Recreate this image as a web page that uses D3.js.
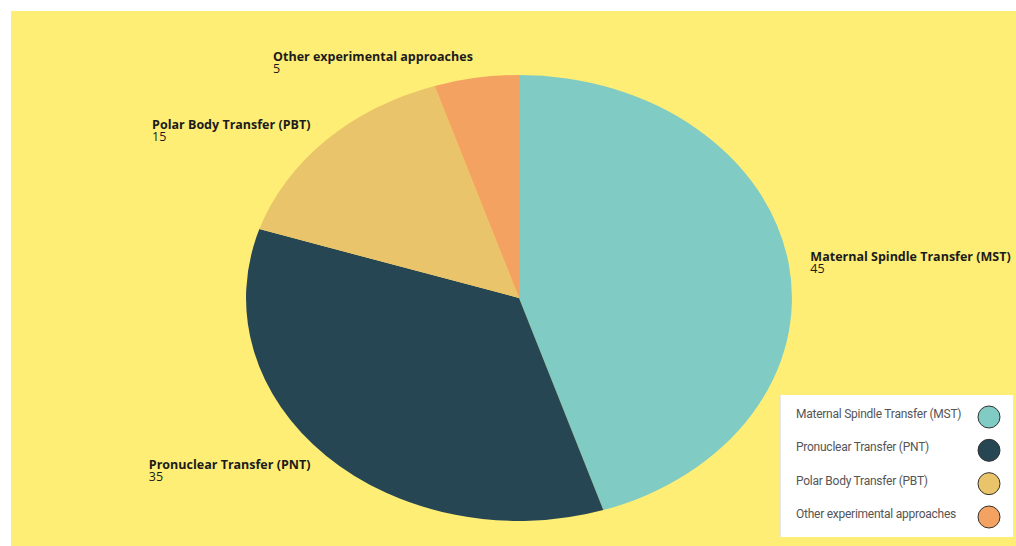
<!DOCTYPE html>
<html>
<head>
<meta charset="utf-8">
<script src="https://cdn.jsdelivr.net/npm/d3@7"></script>
<style>
  html, body { margin: 0; padding: 0; background: #ffffff; }
  svg { display: block; }
</style>
</head>
<body>
<div id="chart"></div>
<script>
// data
var categories = ["Maternal Spindle Transfer (MST)", "Pronuclear Transfer (PNT)", "Polar Body Transfer (PBT)", "Other experimental approaches"];
var values = [45, 35, 15, 5];
var colors = ["#80cbc4", "#264653", "#e9c46a", "#f4a261"];

var WIDTH = 1016, HEIGHT = 546;
var cx = 519, cy = 298, rx = 273, ry = 223;

var svg = d3.select("#chart").append("svg")
    .attr("width", WIDTH)
    .attr("height", HEIGHT);

// yellow panel
svg.append("rect")
    .attr("x", 11).attr("y", 11)
    .attr("width", WIDTH - 11).attr("height", HEIGHT - 11)
    .attr("fill", "#feee75");

var slices = categories.map(function(c, i) { return { name: c, value: values[i], color: colors[i] }; });

var pie = d3.pie().sort(null).value(function(d) { return d.value; });
var arcs = pie(slices);

// unit circle, stretched into an ellipse
var arc = d3.arc().innerRadius(0).outerRadius(1);

var pieG = svg.append("g")
    .attr("transform", "translate(" + cx + "," + cy + ") scale(" + rx + "," + ry + ")");

pieG.selectAll("path")
    .data(arcs)
    .enter().append("path")
    .attr("d", arc)
    .attr("fill", function(d) { return d.data.color; });

// outside labels
var labelR = 295, labelRy = ry * 1.08;
var labels = svg.append("g").attr("class", "labels");

arcs.forEach(function(d) {
    var mid = (d.startAngle + d.endAngle) / 2;
    var ax = cx + Math.sin(mid) * labelR;
    var ay = cy - Math.cos(mid) * labelRy + 1;
    var g = labels.append("g");
    var t1 = g.append("text")
        .attr("x", 0).attr("y", 0)
        .attr("font-family", "'Open Sans', sans-serif")
        .attr("font-weight", 700)
        .attr("font-size", 12.5)
        .attr("fill", "#1b1b1b")
        .text(d.data.name);
    var t2 = g.append("text")
        .attr("x", 0).attr("y", 12)
        .attr("font-family", "'Open Sans', sans-serif")
        .attr("font-size", 12.5)
        .attr("fill", "#1b1b1b")
        .text(d.data.value);
    var w = Math.max(t1.node().getComputedTextLength(), t2.node().getComputedTextLength());
    var x = Math.sin(mid) < 0 ? ax - w : ax;
    g.attr("transform", "translate(" + x + "," + ay + ")");
});

// legend
var legend = svg.append("g").attr("transform", "translate(780,395)");
legend.append("rect")
    .attr("width", 233).attr("height", 142)
    .attr("fill", "#ffffff");
legend.append("line")
    .attr("x1", 0.5).attr("x2", 0.5).attr("y1", 0).attr("y2", 142)
    .attr("stroke", "#e8e8e8");

var rowY = d3.scalePoint().domain(categories).range([22, 122]);

var rows = legend.selectAll("g.row")
    .data(slices)
    .enter().append("g")
    .attr("class", "row")
    .attr("transform", function(d) { return "translate(0," + rowY(d.name) + ")"; });

rows.append("text")
    .attr("x", 16).attr("y", 1)
    .attr("font-family", "Roboto, sans-serif")
    .attr("font-size", 12)
    .attr("letter-spacing", -0.25)
    .attr("fill", "#555555")
    .text(function(d) { return d.name; });

rows.append("circle")
    .attr("cx", 209).attr("cy", 0).attr("r", 11)
    .attr("fill", function(d) { return d.color; })
    .attr("stroke", "#333333")
    .attr("stroke-width", 1);
</script>
</body>
</html>
